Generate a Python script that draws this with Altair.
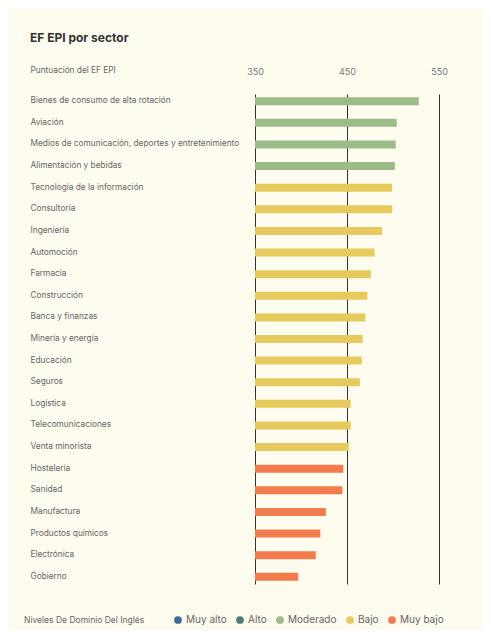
import altair as alt
import pandas as pd

sectors = [
    "Bienes de consumo de alta rotación", "Aviación",
    "Medios de comunicación, deportes y entretenimiento", "Alimentación y bebidas",
    "Tecnología de la información", "Consultoría", "Ingeniería", "Automoción",
    "Farmacia", "Construcción", "Banca y finanzas", "Minería y energía",
    "Educación", "Seguros", "Logística", "Telecomunicaciones", "Venta minorista",
    "Hostelería", "Sanidad", "Manufactura", "Productos químicos", "Electrónica",
    "Gobierno",
]
scores = [528, 504, 503, 502, 499, 499, 488, 480, 476, 472, 470, 467, 466, 464,
          454, 454, 452, 446, 445, 427, 421, 416, 397]
levels = ["Moderado"] * 4 + ["Bajo"] * 13 + ["Muy bajo"] * 6

level_names = ["Muy alto", "Alto", "Moderado", "Bajo", "Muy bajo"]
level_colors = ["#3b6a9b", "#4b7d7a", "#9bbb89", "#e6ca5d", "#f27c4e"]
tick_values = [350, 450, 550]

df = pd.DataFrame({"sector": sectors, "score": scores, "level": levels})

FONT = "Inter"
BG = "#fefcee"

chart = alt.Chart(df).mark_bar().encode(
    y=alt.Y("sector:N", sort=sectors,
            scale=alt.Scale(paddingInner=0.63, paddingOuter=0.15),
            axis=alt.Axis(title=None, labelAlign="left", labelPadding=225,
                          labelLimit=300, ticks=False, tickSize=0, domain=False,
                          labelFontSize=8.3, labelColor="#666666", labelFont=FONT)),
    x=alt.X("score:Q", scale=alt.Scale(domain=[350, 550], zero=False, nice=False),
            axis=alt.Axis(orient="top", values=tick_values, grid=True,
                          gridColor="#333333", gridWidth=1, gridOpacity=1,
                          domain=False, ticks=False, tickSize=0, labelPadding=18,
                          labelFlush=False,
                          labelFontSize=9, labelColor="#777777", labelFont=FONT,
                          title="Puntuación del EF EPI", titleX=-225, titleY=-24,
                          titleAlign="left", titleBaseline="middle",
                          titleFontSize=8.3, titleFontWeight="normal",
                          titleColor="#666666", titleFont=FONT)),
    x2=alt.datum(350),
    color=alt.Color("level:N",
                    scale=alt.Scale(domain=level_names, range=level_colors),
                    legend=alt.Legend(orient="none", legendX=-231, legendY=521,
                                      direction="horizontal",
                                      title="Niveles De Dominio Del Inglés",
                                      titleOrient="left", titleFontSize=8.5,
                                      titleFontWeight="normal", titleColor="#666666",
                                      titleFont=FONT, titlePadding=28,
                                      labelFontSize=10, labelColor="#666666",
                                      labelFont=FONT, symbolType="circle",
                                      symbolSize=60, symbolStrokeWidth=0,
                                      symbolOpacity=1, columnPadding=8,
                                      labelOffset=3)),
).properties(
    width=184, height=490,
    title=alt.Title("EF EPI por sector", anchor="start", offset=20, dx=6,
                    fontSize=12, fontWeight="bold", color="#333333", font=FONT),
    background=BG,
    padding={"left": 247, "top": 86, "right": 44, "bottom": 45},
    autosize=alt.AutoSizeParams(type="none"),
).configure_view(stroke=None)

chart.save("out.html", embed_options={"renderer": "svg", "actions": False})
